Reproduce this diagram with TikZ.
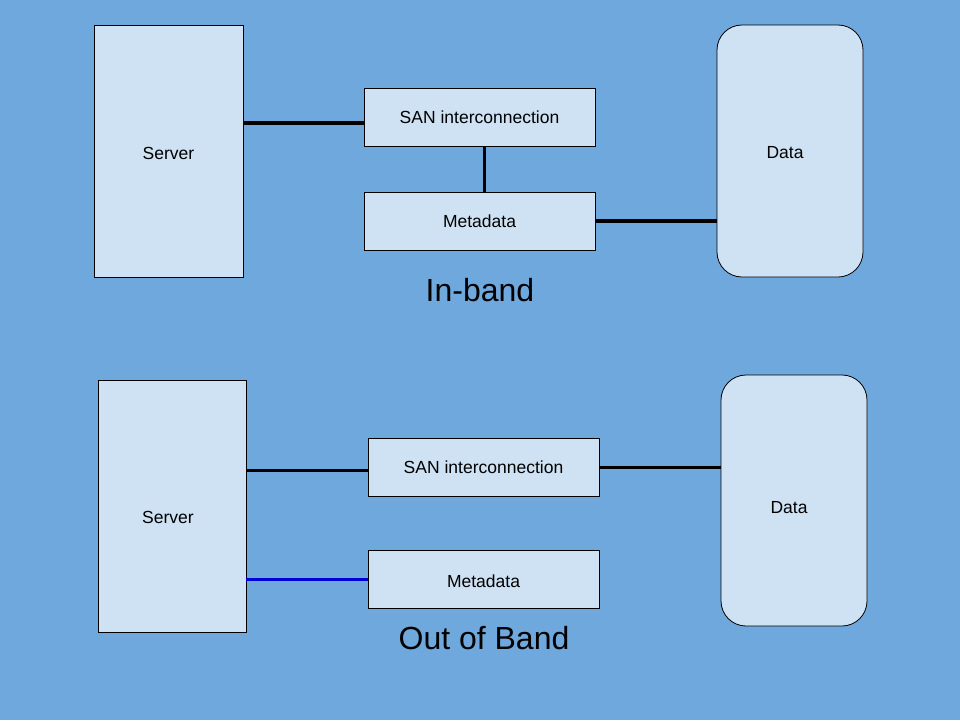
\documentclass[tikz,border=0pt]{standalone}
\usepackage{fontspec}
\setmainfont{Liberation Sans}
\usepackage{tikz}
\usepackage{xcolor}
\usetikzlibrary{
    calc,
    positioning
}
\definecolor{bgblue}{HTML}{6FA8DC}
\definecolor{boxblue}{HTML}{CFE2F3}
\tikzset{
    box/.style={draw=black, fill=boxblue, line width=0.8pt, inner sep=0pt, font=\fontsize{17.5}{20}\selectfont},
    store/.style={box, rounded corners=25pt},
    link/.style={line width=3.5pt, black},
    title/.style={font=\fontsize{32}{36}\selectfont}
}

\begin{document}
\begin{tikzpicture}[x=1pt, y=-1pt]
    \fill[bgblue] (0, 0) rectangle (960, 720);
    \useasboundingbox (0, 0) rectangle (960, 720);

    % in-band
    \node[box, minimum width=149pt, minimum height=252pt,
          label={[font=\fontsize{17.5}{20}\selectfont, yshift=-2pt]center:Server}] (srvA) at (168.5, 151) {};
    \node[box, minimum width=231pt, minimum height=58pt] (sanA) at (479.5, 117) {SAN interconnection};
    \node[box, minimum width=231pt, minimum height=58pt] (metaA) at (479.5, 221) {Metadata};
    \node[store, minimum width=146pt, minimum height=252pt,
          label={[font=\fontsize{17.5}{20}\selectfont, xshift=-5pt, yshift=-2pt]center:Data}] (dataA) at (790, 151) {};
    \node[title] (lblA) at (480, 290) {In-band};

    \coordinate (sanAin) at ([yshift=-6pt]sanA.west);
    \coordinate (sanAdown) at ([xshift=5pt]sanA.south);
    \draw[link] (sanAin) -- (srvA.east |- sanAin);
    \draw[link] (sanAdown) -- (sanAdown |- metaA.north);
    \draw[link] (metaA.east) -- (dataA.west |- metaA.east);

    % out of band
    \node[box, minimum width=148pt, minimum height=252pt,
          label={[font=\fontsize{17.5}{20}\selectfont, xshift=-4pt, yshift=-11pt]center:Server}] (srvB) at (172, 506) {};
    \node[box, minimum width=231pt, minimum height=58pt] (sanB) at (483.5, 467) {SAN interconnection};
    \node[box, minimum width=231pt, minimum height=58pt,
          label={[font=\fontsize{17.5}{20}\selectfont, yshift=-2pt]center:Metadata}] (metaB) at (483.5, 579) {};
    \node[store, minimum width=146pt, minimum height=251pt,
          label={[font=\fontsize{17.5}{20}\selectfont, xshift=-5pt, yshift=-7pt]center:Data}] (dataB) at (794, 500.5) {};
    \node[title] (lblB) at (484, 638) {Out of Band};

    \coordinate (sanBin) at ([yshift=-3pt]sanB.west);
    \draw[link, line width=3pt] (sanBin) -- (srvB.east |- sanBin);
    \draw[link, line width=3pt] (sanB.east) -- (dataB.west |- sanB.east);
    \draw[link, line width=3pt, blue!85!black] (metaB.west) -- (srvB.east |- metaB.west);
\end{tikzpicture}
\end{document}
